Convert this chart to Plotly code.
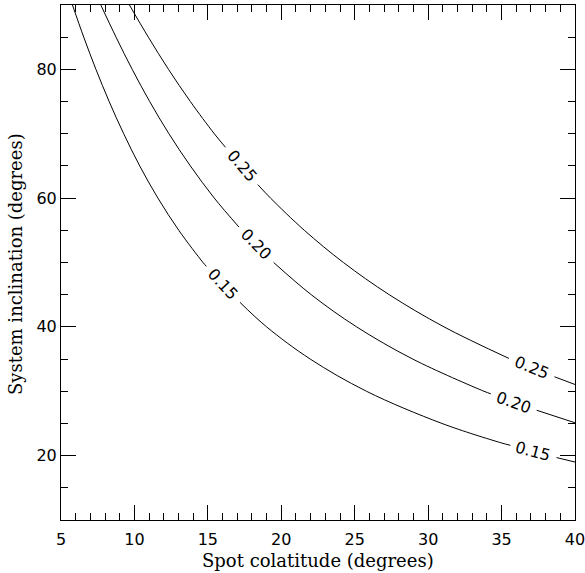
import plotly.graph_objects as go

# Contour levels and the read-off points of each contour line (None = label gap)
levels = ["0.15", "0.20", "0.25"]

c15_x = [5.78, 6.55, 7.38, 8.28, 9.27, 10.36, 11.60, 13.02, 14.67, 14.90, None,
         17.19, 19.00, 21.97, 25.80, 30.94, 34.95, 35.60, None, 38.74, 40.0]
c15_y = [90, 85, 80, 75, 70, 65, 60, 55, 50, 49.4, None,
         43.8, 40, 35, 30, 25, 22, 21.6, None, 19.7, 19.0]

c20_x = [7.71, 8.75, 9.85, 11.04, 12.35, 13.81, 15.44, 17.12, None,
         19.48, 22.04, 25.13, 28.95, 33.80, 34.27, None, 37.39, 40.0]
c20_y = [90, 85, 80, 75, 70, 65, 60, 55.5, None,
         50, 45, 40, 35, 30, 29.6, None, 27.05, 25.1]

c25_x = [9.66, 10.95, 12.32, 13.81, 15.44, 16.2, None,
         18.4, 19.27, 21.57, 24.23, 27.35, 31.08, 35.5, None, 38.6, 40.0]
c25_y = [90, 85, 80, 75, 70, 67.9, None,
         62.1, 60, 55, 50, 45, 40, 35.1, None, 32.25, 31.05]

# Label anchor points (data coords) and angle along the curve
label_x = [16.05, 37.17, 18.30, 35.83, 17.30, 37.05]
label_y = [46.6, 20.65, 52.75, 28.33, 65.0, 33.67]
label_text = ["0.15", "0.15", "0.20", "0.20", "0.25", "0.25"]
label_angle = [47, 15, 45.6, 19.7, 49.2, 22]

x_title = "Spot colatitude (degrees)"
y_title = "System inclination (degrees)"

fig = go.Figure()
for xs, ys, name in [(c15_x, c15_y, levels[0]), (c20_x, c20_y, levels[1]), (c25_x, c25_y, levels[2])]:
    fig.add_trace(go.Scatter(x=xs, y=ys, mode="lines", name=name,
                             line=dict(color="black", width=1, shape="spline"),
                             connectgaps=False, hoverinfo="skip"))

for lx, ly, lt, la in zip(label_x, label_y, label_text, label_angle):
    fig.add_annotation(x=lx, y=ly, xref="x", yref="y", text=lt, showarrow=False,
                       textangle=la, font=dict(family="DejaVu Sans", size=16, color="black"))

fig.add_annotation(x=0.5, y=-0.0796, xref="paper", yref="paper", text=x_title,
                   showarrow=False, xanchor="center", yanchor="middle",
                   font=dict(family="DejaVu Serif", size=18, color="black"))
fig.add_annotation(x=-0.0895, y=0.497, xref="paper", yref="paper", text=y_title,
                   showarrow=False, xanchor="center", yanchor="middle", textangle=-90,
                   font=dict(family="DejaVu Serif", size=18, color="black"))

axis_common = dict(showgrid=False, zeroline=False, showline=True, linecolor="black",
                   linewidth=1, mirror="ticks", ticks="inside", tickcolor="black",
                   ticklen=15, tickwidth=1, automargin=False, ticklabeloverflow="allow",
                   tickfont=dict(family="DejaVu Sans", size=16, color="black"))

fig.update_xaxes(range=[5, 40], dtick=5, tick0=5,
                 minor=dict(dtick=1, ticklen=7, ticks="inside", tickcolor="black", tickwidth=1),
                 ticklabelstandoff=5,
                 **axis_common)
fig.update_yaxes(range=[10, 90], dtick=20, tick0=0,
                 minor=dict(dtick=5, ticklen=7, ticks="inside", tickcolor="black", tickwidth=1),
                 ticklabelstandoff=0,
                 **axis_common)

fig.update_layout(width=585, height=573, margin=dict(l=61, r=10, t=5, b=53),
                  plot_bgcolor="white", paper_bgcolor="white", showlegend=False)

fig.write_html("out.html", config={"displayModeBar": False},
               post_script="document.body.style.margin='0';document.body.style.overflow='hidden';")
